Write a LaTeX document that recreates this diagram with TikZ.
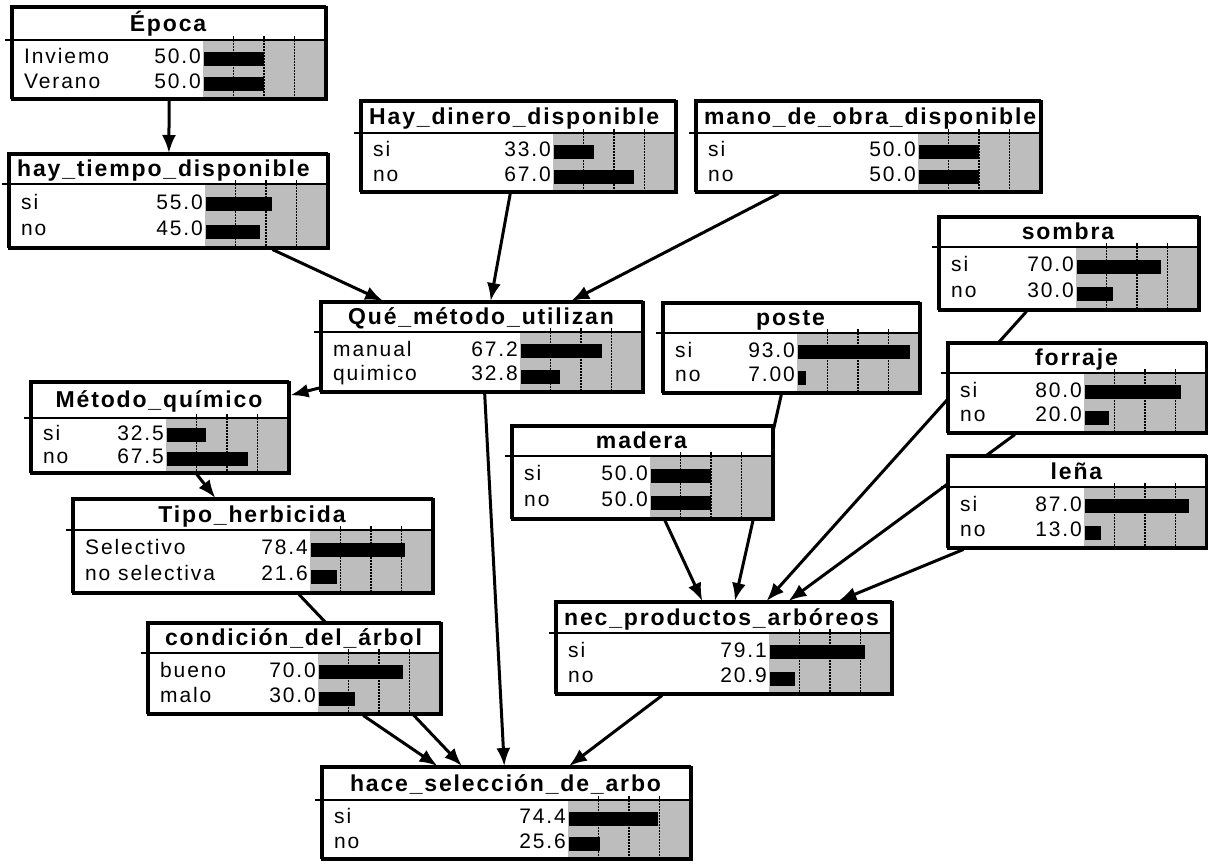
\documentclass[tikz,border=0pt]{standalone}
\usepackage{fontspec}
\setmainfont{Liberation Sans}
\newfontfamily\statefont{Liberation Sans}[LetterSpace=9]
\newfontfamily\headfont{Liberation Sans}[LetterSpace=8]
\usetikzlibrary{arrows.meta,backgrounds}

\tikzset{
  netbox/.style={draw, line width=2.5pt, fill=white, rectangle, inner sep=0pt, anchor=north west},
  framebox/.style={draw, line width=2.5pt},
  sepline/.style={line width=2.2pt},
  headtext/.style={font=\headfont\bfseries\fontsize{23}{25}\selectfont, inner sep=0pt},
  statetext/.style={font=\statefont\fontsize{21}{23}\selectfont, inner sep=0pt},
  barfield/.style={fill=gray!52!white},
  gridline/.style={line width=1.4pt, dash pattern=on 1.5pt off 1.5pt},
  gridtick/.style={line width=1.3pt},
  probbar/.style={fill=black},
  link/.style={line width=3pt, -{Latex[length=18pt,width=14pt]}},
}

% #1 name, #2 left, #3 top, #4 right, #5 bottom, #6 title rule y, #7 title, #8 c = centred / w = left
\newcommand{\netnode}[8]{%
  \pgfmathsetmacro\nl{#2}\pgfmathsetmacro\nt{#3}%
  \pgfmathsetmacro\nr{#4}\pgfmathsetmacro\nb{#5}\pgfmathsetmacro\ns{#6}%
  \pgfmathsetmacro\nw{\nr-\nl}\pgfmathsetmacro\nh{\nb-\nt}%
  \pgfmathsetmacro\bl{\nr-122}%
  \node[netbox, minimum width=\nw pt, minimum height=\nh pt] (#1) at (\nl,\nt) {};
  \fill[barfield] (\bl,\ns) rectangle (\nr,\nb);
  \foreach \f in {0.25,0.5,0.75}{
    \draw[gridline] ({\bl+122*\f},\ns) -- ({\bl+122*\f},\nb);
    \draw[gridtick] ({\bl+122*\f},{\ns-4}) -- ({\bl+122*\f},\ns);
  }
  \draw[sepline] ({\nl-6},\ns) -- (\nr,\ns);
  \draw[framebox] (\nl,\nt) rectangle (\nr,\nb);
  \if#8c
    \node[headtext, anchor=base] (#1-title) at ({(\nl+\nr)/2},{(\nt+\ns)/2+8}) {#7};
  \else
    \node[headtext, anchor=base west] (#1-title) at ({\nl+9},{(\nt+\ns)/2+8}) {#7};
  \fi
}

% #1 name, then state, value, percentage for the two states
\newcommand{\staterows}[7]{%
  \pgfmathsetmacro\ya{\ns+0.28*(\nb-\ns)}%
  \pgfmathsetmacro\yb{\ns+0.70*(\nb-\ns)}%
  \pgfmathsetmacro\ba{\ns+0.32*(\nb-\ns)}%
  \pgfmathsetmacro\bb{\ns+0.76*(\nb-\ns)}%
  \node[statetext, anchor=base west] (#1-s1) at ({\nl+13},{\ya+7.5}) {#2};
  \node[statetext, anchor=base east] (#1-v1) at ({\bl-2},{\ya+7.5}) {#3};
  \fill[probbar] ({\bl+1},{\ba-7}) rectangle ({\bl+1+1.2*#4},{\ba+7});
  \node[statetext, anchor=base west] (#1-s2) at ({\nl+13},{\yb+7.5}) {#5};
  \node[statetext, anchor=base east] (#1-v2) at ({\bl-2},{\yb+7.5}) {#6};
  \fill[probbar] ({\bl+1},{\bb-7}) rectangle ({\bl+1+1.2*#7},{\bb+7});
}

\begin{document}
\begin{tikzpicture}[x=1pt,y=-1pt]
\useasboundingbox (0,0) rectangle (1208,863);

\netnode{epoca}{11}{6}{325}{98}{40}{Época}{c}
\staterows{epoca}{Inviemo}{50.0}{50}{Verano}{50.0}{50}

\netnode{tiempo}{8}{153}{327}{247}{184}{hay\_tiempo\_disponible}{w}
\staterows{tiempo}{si}{55.0}{55}{no}{45.0}{45}

\netnode{dinero}{360}{100}{675}{191}{133}{Hay\_dinero\_disponible}{w}
\staterows{dinero}{si}{33.0}{33}{no}{67.0}{67}

\netnode{mano}{695}{100}{1040}{191}{133}{mano\_de\_obra\_disponible}{w}
\staterows{mano}{si}{50.0}{50}{no}{50.0}{50}

\netnode{sombra}{938}{216}{1198}{309}{247}{sombra}{c}
\staterows{sombra}{si}{70.0}{70}{no}{30.0}{30}

\netnode{metodo}{320}{301}{642}{391}{332}{Qué\_método\_utilizan}{c}
\staterows{metodo}{manual}{67.2}{67.2}{quimico}{32.8}{32.8}

\netnode{poste}{662}{302}{919}{392}{333}{poste}{c}
\staterows{poste}{si}{93.0}{93}{no}{7.00}{7}

\netnode{forraje}{947}{342}{1206}{432}{373}{forraje}{c}
\staterows{forraje}{si}{80.0}{80}{no}{20.0}{20}

\netnode{quimico}{30}{381}{288}{472}{418}{Método\_químico}{c}
\staterows{quimico}{si}{32.5}{32.5}{no}{67.5}{67.5}

\netnode{madera}{511}{425}{772}{518}{456}{madera}{c}
\staterows{madera}{si}{50.0}{50}{no}{50.0}{50}

\netnode{lena}{947}{455}{1206}{547}{487}{leña}{c}
\staterows{lena}{si}{87.0}{87}{no}{13.0}{13}

\netnode{tipo}{72}{498}{432}{592}{530}{Tipo\_herbicida}{c}
\staterows{tipo}{Selectivo}{78.4}{78.4}{no selectiva}{21.6}{21.6}

\netnode{condicion}{147}{622}{440}{713}{653}{condición\_del\_árbol}{c}
\staterows{condicion}{bueno}{70.0}{70}{malo}{30.0}{30}

\netnode{productos}{555}{601}{891}{693}{633}{nec\_productos\_arbóreos}{w}
\staterows{productos}{si}{79.1}{79.1}{no}{20.9}{20.9}

\netnode{hace}{321}{766}{690}{858}{800}{hace\_selección\_de\_arbo}{c}
\staterows{hace}{si}{74.4}{74.4}{no}{25.6}{25.6}

% links run centre to centre and pass behind the boxes
\begin{pgfonlayer}{background}
\fill[white] (0,0) rectangle (1208,863);
\draw[link] (epoca) -- (tiempo);
\draw[link] (tiempo) -- (metodo);
\draw[link] (dinero) -- (metodo);
\draw[link] (mano) -- (metodo);
\draw[link] (metodo) -- (quimico);
\draw[link] (quimico) -- (tipo);
\draw[link] (metodo) -- (hace);
\draw[link] (tipo) -- (hace);
\draw[link] (condicion) -- (hace);
\draw[link] (productos) -- (hace);
\draw[link] (madera) -- (productos);
\draw[link] (poste) -- (productos);
\draw[link] (sombra) -- (productos);
\draw[link] (forraje) -- (productos);
\draw[link] (lena) -- (productos);
\end{pgfonlayer}
\end{tikzpicture}
\end{document}
